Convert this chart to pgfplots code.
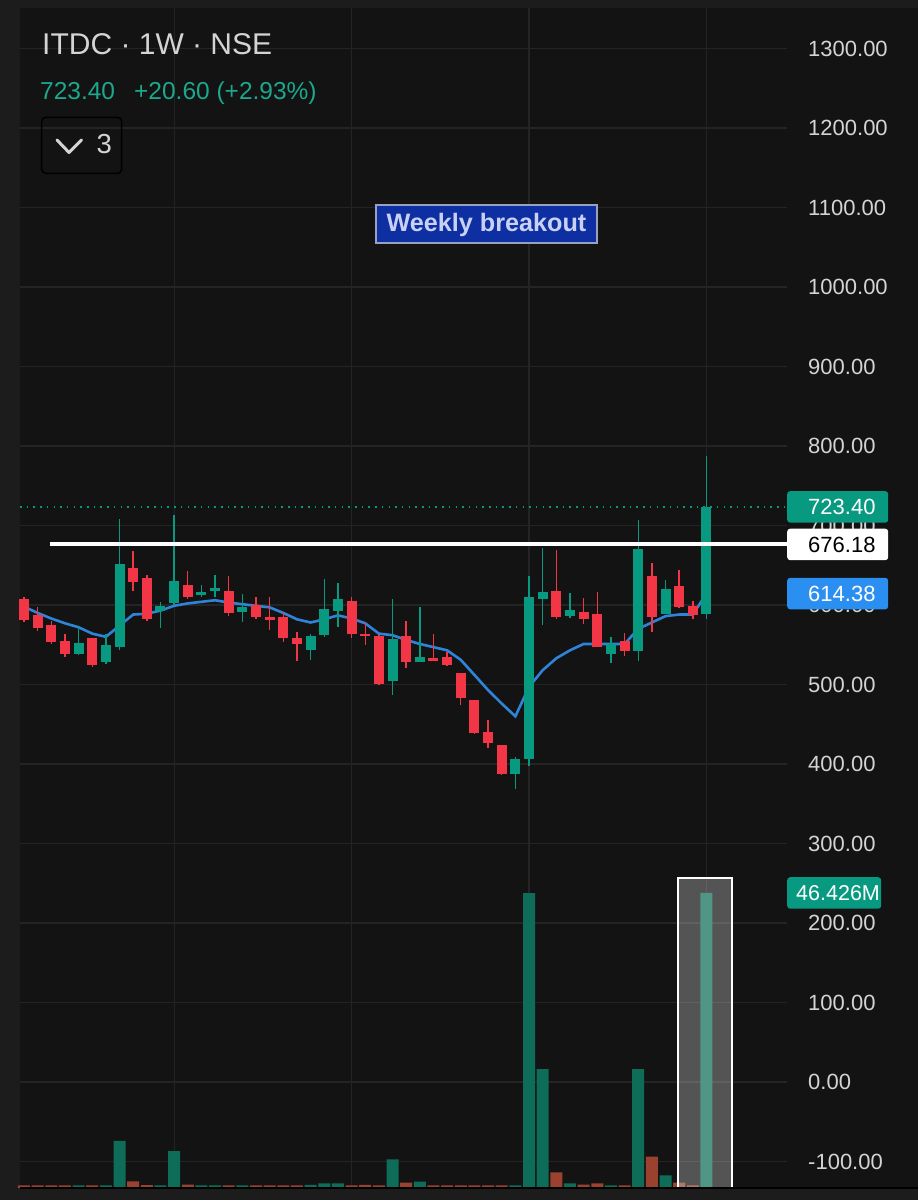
\documentclass[border=0pt]{standalone}
\usepackage{pgfplots}
\pgfplotsset{compat=1.18}
\usepackage{pgfplotstable}
\usepackage{fontspec}
\setmainfont{Liberation Sans}

\definecolor{bgout}{HTML}{1C1C1C}
\definecolor{bgin}{HTML}{131313}
\definecolor{gridc}{HTML}{242424}
\definecolor{upc}{HTML}{089981}
\definecolor{dnc}{HTML}{F23645}
\definecolor{emac}{HTML}{2F84DA}
\definecolor{lblc}{HTML}{D4D4D4}
\definecolor{volup}{HTML}{0E6D58}
\definecolor{voldn}{HTML}{9A4130}
\definecolor{boxblue}{HTML}{0E2FA2}
\definecolor{boxedge}{HTML}{9AA0C0}
\definecolor{boxtext}{HTML}{C9D0F5}
\definecolor{teal}{HTML}{1BA88D}
\definecolor{bluebox}{HTML}{2A8FF0}

% green candles
\pgfplotstableread{
i o h l c
4 538 572 537 552.6
6 528.7 563 526 549.7
7 547.5 708 543 651
10 592 604 571 599
11 602 713 600 630
13 612.5 625 609.5 616.5
14 617 638 610 621
16 591 614 578 597
21 544 564 531 561
22 562 633 560 594.6
23 592 628 572 608
27 505 607 487 557
29 528 597 528 534
36 388 409 369 406
37 406 636 397 610.5
38 607.5 672 575 616.5
40 586 615.5 584 594
43 538 560 527 551
45 542.5 707.5 530 670
47 589 631 589 619.5
50 589 787 583 723.4
}\upT

% red candles
\pgfplotstableread{
i o h l c
0 607.5 610 578 581
1 587.4 598 567 571.5
2 574.8 580 551 553.8
3 554.7 563 534 538
5 558 558 522 524.5
8 646 668 618 629
9 634 638 580 582
12 625 643 607 610
15 618 636 586 590
17 600 610 583 585
18 585 610 569 581
19 585 591 553.5 558
20 559 566 530 551
24 605 610 558 564
25 564 578 550 561
26 561 562 500 501
28 561 580 521 528
30 533 564 529 529.5
31 535 541 523 524.5
32 515 515 474 482.5
33 480.5 480.5 438 439
34 440.6 455 419.6 426.8
35 424 424 386 387.4
39 617 669 582 584.5
41 590.6 609 576.7 583
42 589 616.5 547 547.5
44 554.7 565 536 542.5
46 636.7 653 566 584.5
48 624 644 596 598
49 599 605 583 587
}\dnT

% EMA
\pgfplotstableread{
i e
0 598
1 590
2 583
3 577
4 572
5 564
6 560
7 574
8 588
9 589
10 593
11 599
12 602
13 604
14 606
15 603
16 601
17 599
18 597
19 590
20 582
21 578
22 582
23 587
24 583
25 577
26 564
27 562
28 556
29 551
30 547
31 543
32 531
33 512
34 493
35 476
36 460
37 497
38 518
39 533
40 543
41 551
42 551
43 551
44 551
45 570
46 578
47 586
48 588
49 588
50 614.38
}\emaT

% volume (millions)
\pgfplotstableread{
i v
4 0.42
6 0.42
7 7.4
10 0.42
11 5.8
13 0.42
14 0.42
16 0.42
21 0.5
22 0.74
23 0.74
27 4.5
29 1.0
36 0.42
37 46.4
38 18.7
40 0.74
43 0.42
45 18.7
47 2.0
50 46.426
}\volUp

\pgfplotstableread{
i v
0 0.42
1 0.42
2 0.42
3 0.42
5 0.42
8 1.05
9 0.45
12 0.52
15 0.42
17 0.42
18 0.42
19 0.42
20 0.42
24 0.42
25 0.5
26 0.42
28 0.83
30 0.42
31 0.42
32 0.42
33 0.42
34 0.42
35 0.42
39 2.47
41 0.52
42 0.74
44 0.42
46 4.93
48 0.83
49 0.42
}\volDn

\begin{document}
\begin{tikzpicture}
\useasboundingbox (0,0) rectangle (918pt,1200pt);
\fill[bgout] (0,0) rectangle (918pt,1200pt);
\fill[bgin] (20pt,12pt) rectangle (918pt,1192pt);

\begin{axis}[
  at={(20pt,12pt)}, anchor=south west, scale only axis,
  width=767pt, height=1180pt,
  xmin=-0.293, xmax=55.9, ymin=-133.3, ymax=1350.9,
  axis line style={draw=none},
  xtick={11,24,37,50}, xticklabels={},
  ytick={-100,0,100,200,300,400,500,600,700,800,900,1000,1100,1200,1300},
  grid=major, major grid style={gridc, line width=1.2pt},
  major tick length=0pt,
  yticklabel pos=right,
  yticklabel style={anchor=west, inner sep=0pt, xshift=21pt, text=lblc,
    font=\fontsize{22pt}{26pt}\selectfont,
    /pgf/number format/.cd, fixed, fixed zerofill, precision=2, 1000 sep={}, assume math mode=true},
  clip=false,
]
% dotted last-price line
\addplot[upc, line width=1.5pt, dash pattern=on 1.5pt off 5.2pt] coordinates {(-0.293,723.4) (55.9,723.4)};
% EMA
\addplot[emac, line width=2.6pt] table[x=i, y=e] {\emaT};
% wicks
\addplot[draw=none, mark=none, error bars/.cd, y dir=both, y explicit, error mark=none,
  error bar style={upc, line width=1.4pt}]
  table[x=i, y expr={(\thisrow{h}+\thisrow{l})/2}, y error expr={(\thisrow{h}-\thisrow{l})/2}] {\upT};
\addplot[draw=none, mark=none, error bars/.cd, y dir=both, y explicit, error mark=none,
  error bar style={dnc, line width=1.4pt}]
  table[x=i, y expr={(\thisrow{h}+\thisrow{l})/2}, y error expr={(\thisrow{h}-\thisrow{l})/2}] {\dnT};
% bodies
\addplot[draw=none, mark=none, error bars/.cd, y dir=both, y explicit, error mark=none,
  error bar style={upc, line width=10pt}]
  table[x=i, y expr={(\thisrow{o}+\thisrow{c})/2}, y error expr={max(abs(\thisrow{o}-\thisrow{c})/2,1)}] {\upT};
\addplot[draw=none, mark=none, error bars/.cd, y dir=both, y explicit, error mark=none,
  error bar style={dnc, line width=10pt}]
  table[x=i, y expr={(\thisrow{o}+\thisrow{c})/2}, y error expr={max(abs(\thisrow{o}-\thisrow{c})/2,1)}] {\dnT};
% horizontal level
\addplot[white, line width=4pt] coordinates {(1.9,676.18) (55.9,676.18)};

% price labels
\node[anchor=west, fill=upc, text=white, inner xsep=0pt, inner ysep=0pt, minimum height=31.5pt,
  text width=101pt, align=left, rounded corners=3pt, font=\fontsize{22pt}{26pt}\selectfont]
  at (axis cs:55.9,723.4) {\hspace*{21pt}723.40};
\node[anchor=west, fill=white, text=black, inner xsep=0pt, inner ysep=0pt, minimum height=31.5pt,
  text width=101pt, align=left, rounded corners=3pt, font=\fontsize{22pt}{26pt}\selectfont]
  at (axis cs:55.9,676.18) {\hspace*{21pt}676.18};
\node[anchor=west, fill=bluebox, text=white, inner xsep=0pt, inner ysep=0pt, minimum height=31.5pt,
  text width=101pt, align=left, rounded corners=3pt, font=\fontsize{22pt}{26pt}\selectfont]
  at (axis cs:55.9,614.38) {\hspace*{21pt}614.38};
\end{axis}

\begin{axis}[
  at={(20pt,12pt)}, anchor=south west, scale only axis,
  width=767pt, height=1180pt,
  xmin=-0.293, xmax=55.9, ymin=0, ymax=185.7,
  axis lines=none, ticks=none, clip=false,
]
\addplot[ybar, bar width=12pt, bar shift=0pt, fill=volup, draw=none] table[x=i, y=v] {\volUp};
\addplot[ybar, bar width=12pt, bar shift=0pt, fill=voldn, draw=none] table[x=i, y=v] {\volDn};
\draw[white, line width=1.5pt, fill=white, fill opacity=0.28] (axis cs:47.9,0) rectangle (axis cs:51.87,48.79);
\node[anchor=west, fill=upc, text=white, inner xsep=0pt, inner ysep=0pt, minimum height=31.5pt,
  text width=94pt, align=left, rounded corners=3pt, font=\fontsize{21.5pt}{26pt}\selectfont]
  at (axis cs:55.9,46.426) {\hspace*{9pt}46.426M};
\end{axis}

\draw[color=gridc!140, line width=1.5pt] (20pt,12pt) -- (918pt,12pt);

% header
\node[anchor=base west, inner sep=0pt, text=lblc, font=\fontsize{30pt}{34pt}\selectfont] at (42pt,1145pt) {ITDC · 1W · NSE};
\node[anchor=base west, inner sep=0pt, text=teal, font=\fontsize{24.5pt}{28pt}\selectfont] at (40pt,1100.7pt) {723.40\hspace{0.5em} +20.60 (+2.93\%)};
\draw[color=gridc!170, line width=1.5pt, rounded corners=4pt] (41.7pt,1082.7pt) rectangle (121.7pt,1026.7pt);
\draw[lblc, line width=3pt, line cap=round, line join=round] (57pt,1060pt) -- (69pt,1047.5pt) -- (81.5pt,1060pt);
\node[anchor=base west, inner sep=0pt, text=lblc, font=\fontsize{27.5pt}{30pt}\selectfont] at (96.5pt,1046pt) {3};

% annotation
\node[fill=boxblue, draw=boxedge, line width=2pt, minimum width=221pt, minimum height=38pt, inner sep=0pt,
  text=boxtext, font=\fontsize{25.2pt}{28pt}\selectfont\bfseries] at (486.5pt,975.5pt) {Weekly breakout};
\end{tikzpicture}
\end{document}
